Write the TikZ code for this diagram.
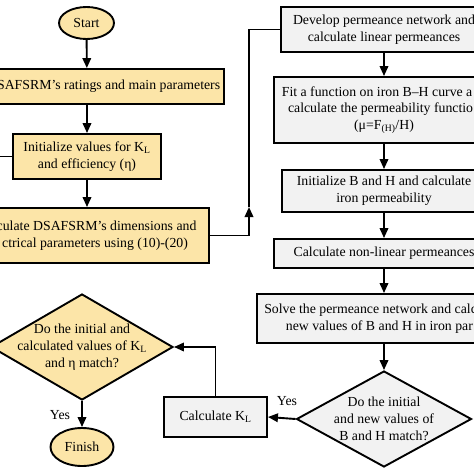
\documentclass[tikz,border=0pt]{standalone}
\usepackage{fontspec}
\setmainfont{Liberation Serif}
\usetikzlibrary{arrows.meta,shapes.geometric}
\definecolor{yfill}{RGB}{252,229,168}
\definecolor{gfill}{RGB}{242,242,242}
\begin{document}
\begin{tikzpicture}[x=1pt,y=-1pt,
  every node/.style={font=\fontsize{13.8}{16.7}\selectfont, inner sep=0pt, align=center},
  ln/.style={line width=1.9pt},
  ybx/.style={draw, ln, fill=yfill, rectangle},
  gbx/.style={draw, ln, fill=gfill, rectangle},
  yell/.style={draw, ln, fill=yfill, ellipse},
  ydia/.style={draw, ln, fill=yfill, diamond},
  gdia/.style={draw, ln, fill=gfill, diamond},
  arr/.style={ln, -{Triangle[length=10pt,width=8.5pt]}}]
\useasboundingbox (0,0) rectangle (474,474);
\clip (0,0) rectangle (474,474);
% left column
\node[yell, minimum width=55pt, minimum height=32pt] (start) at (86.5,23) {Start};
\node[ybx, minimum width=274pt, minimum height=35pt] (rat) at (87,86.5) {\hphantom{Enter D}SAFSRM’s ratings and main parameters};
\node[ybx, minimum width=148pt, minimum height=45pt] (initk) at (87,156.5) {Initialize values for K\textsubscript{L}\\and efficiency (η)};
\node[ybx, minimum width=244pt, minimum height=55pt] (calcd) at (87,235.5) {\hphantom{Cal}culate DSAFSRM’s dimensions and\\\hphantom{ele}ctrical parameters using (10)-(20)};
\node[ydia, minimum width=182pt, minimum height=106pt] (dkl) at (82,347) {};
\node (dklt) at (82,347) {Do the initial and\\calculated values of K\textsubscript{L}\\and η match?};
\node[yell, minimum width=63pt, minimum height=38pt] (fin) at (82,447) {Finish};
\node (yes2) at (60,415) {Yes};
% right column
\node[gbx, minimum width=206pt, minimum height=45pt] (dev) at (384,29.5) {Develop permeance network and\\calculate linear permeances};
\node[gbx, minimum width=220pt, minimum height=66pt] (fit) at (384,110) {Fit a function on iron B–H curve a\hphantom{nd}\\calculate the permeability functio\hphantom{n}\\(μ=F\textsubscript{(H)}/H)};
\node[gbx, minimum width=204pt, minimum height=42pt] (initb) at (384,191) {Initialize B and H and calculate\\iron permeability};
\node[gbx, minimum width=220pt, minimum height=29pt] (nonlin) at (384,253.5) {Calculate non-linear permeances};
\node[gbx, minimum width=254pt, minimum height=49pt] (solve) at (384,318.5) {Solve the permeance network and calc\hphantom{ulate}\\new values of B and H in iron par\hphantom{ts}};
\node[gdia, minimum width=175pt, minimum height=96pt] (dbh) at (384,419) {};
\node (dbht) at (384,419) {Do the initial\\and new values of\\B and H match?};
\node[gbx, minimum width=103pt, minimum height=40pt] (ckl) at (215.5,417) {Calculate K\textsubscript{L}};
\node (yes1) at (287,401) {Yes};
% connectors
\draw[arr] (start) -- (rat);
\draw[arr] (rat) -- (initk);
\draw[arr] (initk) -- (calcd);
\coordinate (up) at (249,207);
\draw[arr] (calcd.east) -| (up);
\draw[ln] (up) |- (dev.west);
\draw[arr] (dev) -- (fit);
\draw[arr] (fit) -- (initb);
\draw[arr] (initb) -- (nonlin);
\draw[arr] (nonlin) -- (solve);
\draw[arr] (solve) -- (dbh.north);
\draw[arr] (dbh.west) -- (ckl.east);
\draw[arr] (ckl.north) |- (dkl.east);
\draw[arr] (dkl.south) -- (fin.north);
\coordinate (lin) at (-5,156.5);
\draw[ln] (lin) -- (initk.west);
\end{tikzpicture}
\end{document}
